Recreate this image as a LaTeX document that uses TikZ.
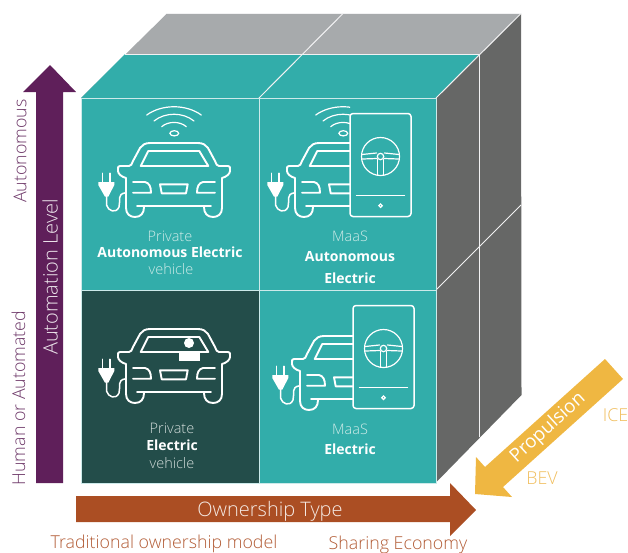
\documentclass[tikz,border=0pt]{standalone}
\usepackage{fontspec}
\setmainfont{Open Sans Light}
\newfontfamily\cellbold{Open Sans}
\definecolor{cubeteal}{HTML}{32ADAA}
\definecolor{cubedark}{HTML}{234D4A}
\definecolor{cubegrey}{HTML}{A7AAAC}
\definecolor{cubeside}{HTML}{666766}
\definecolor{levelpurple}{HTML}{5F1F5A}
\definecolor{levellabel}{HTML}{6F3A6A}
\definecolor{drivegold}{HTML}{EFB742}
\definecolor{drivelabel}{HTML}{F0BE5E}
\definecolor{ownbrown}{HTML}{AB4E23}
\definecolor{ownlabel}{HTML}{B25C36}
\definecolor{softteal}{HTML}{CFEBE8}
\definecolor{softdark}{HTML}{D3DDDB}
\newcommand{\carbody}{%
	\foreach \s in {1,-1}{
		\draw[iconline,xscale=\s] (0,-37) -- (-24,-37) .. controls (-29,-37) and (-32,-35) .. (-34,-32) -- (-41,-19) .. controls (-42,-16) and (-43,-14) .. (-45,-14) -- (-54,-14) .. controls (-56,-14) and (-56,-13) .. (-56,-11) -- (-56,-9) .. controls (-56,-6) and (-52,-3) .. (-48,-2) -- (-48,28) .. controls (-48,34) and (-44,37) .. (-39,37) .. controls (-33,37) and (-30,33) .. (-30,27);
		\draw[iconline,xscale=\s] (-41,2) -- (-29,2) .. controls (-25,3) and (-23,6) .. (-23,12.7) -- (-41,12.7);
	}
	\draw[iconline] (-37,26) -- (37,26);
	\draw[iconline] (-25.7,-29) -- (25.3,-29) -- (34.3,-14) -- (-33.3,-14) -- cycle;
	\draw[iconline] (-14,4.3) -- (13.7,4.3) -- (12,13.3) -- (-12.3,13.3) -- cycle;
	\draw[iconthin] (-71.3,-6.7) -- (-71.3,2);
	\draw[iconthin] (-64,-6.7) -- (-64,2);
	\fill[white] (-75.7,2) -- (-59.7,2) -- (-59.7,5) -- (-65.7,16.7) -- (-69,16.7) -- (-75.7,5) -- cycle;
	\draw[iconthin] (-67.5,16) -- (-67.5,25) .. controls (-66,31) and (-58,34) .. (-55,27) .. controls (-53,21) and (-58,14) .. (-48,12.7);
}
\newcommand{\wifimark}{%
	\draw[iconfine] (0.3,-46.7) ellipse [x radius=4.4,y radius=2.6];
	\draw[iconfine] (-27.3,-65) .. controls (-12,-76) and (12,-76) .. (27.3,-65);
	\draw[iconfine] (-20,-59) .. controls (-9,-68) and (9,-68) .. (20,-59);
	\draw[iconfine] (-12.3,-53.3) .. controls (-6,-59) and (6,-59) .. (12.3,-53.3);
}
\newcommand{\phonemark}{%
	\draw[iconthin,rounded corners=3] (-30.5,-51.5) rectangle (30.5,51.5);
	\draw[iconfine] (0,-8.5) circle [radius=19];
	\draw[iconfine] (0,-8.5) circle [radius=3.2];
	\foreach \s in {1,-1}{
		\draw[iconfine,xscale=\s] (-18.5,-10.5) -- (-4,-12);
		\draw[iconfine,xscale=\s] (-18,-6) -- (-3.5,-6.5);
		\draw[iconfine,xscale=\s] (-3,-5.5) -- (-3,10);
	}
	\draw[iconfine] (-24,30.7) -- (24,30.7);
	\draw[iconfine] (0,40.7) circle [radius=1.7];
}
\tikzset{
	iconline/.style={white,line width=1.9pt,line cap=round,line join=round},
	iconthin/.style={white,line width=1.5pt,line cap=round,line join=round},
	iconfine/.style={white,line width=1.2pt,line cap=round},
	cellface/.style={fill=cubeteal,draw=white!75!cubeteal,line width=1pt},
	seam/.style={white!85!cubegrey,line width=1pt},
	softtext/.style={text=softteal,font=\fontsize{14.5}{16}\selectfont},
	boldtext/.style={text=white,font=\fontsize{14}{16}\selectfont\cellbold\bfseries},
	axistext/.style={font=\fontsize{20}{22}\selectfont},
	sidetext/.style={font=\fontsize{17.8}{20}\selectfont,inner sep=0pt}
}
\begin{document}
\begin{tikzpicture}[x=1pt,y=-1pt]
	\useasboundingbox (0,0) rectangle (628,552);
	% top and side of the cube
	\fill[cubegrey] (81,98) -- (167,13.5) -- (521,13.5) -- (436,98) -- cycle;
	\fill[cubeteal] (81,98) -- (125,54) -- (479,54) -- (436,98) -- cycle;
	\fill[cubeside] (436,98) -- (521,13.5) -- (521.5,395) -- (436,482.5) -- cycle;
	\draw[seam] (125,54) -- (479,54);
	\draw[seam] (167,13.5) -- (521,13.5);
	\draw[seam] (343,13.5) -- (259,98);
	\draw[seam] (436,98) -- (521,13.5);
	\draw[seam] (479,54) -- (479,437);
	\draw[seam] (436,290) -- (521,205);
	% front faces
	\draw[cellface] (81,98) rectangle (259,290);
	\draw[cellface] (259,98) rectangle (436,290);
	\draw[cellface,fill=cubedark] (81,290) rectangle (259,483);
	\draw[cellface] (259,290) rectangle (436,483);
	% icons
	\begin{scope}[shift={(174,180)}]
		\carbody
		\wifimark
	\end{scope}
	\begin{scope}[shift={(343,180)}]
		\clip (-90,-85) rectangle (7,45);
		\carbody
		\wifimark
	\end{scope}
	\begin{scope}[shift={(380.5,165)}]
		\phonemark
	\end{scope}
	\begin{scope}[shift={(174,366)}]
		\carbody
		\fill[white] (15,-23) circle [radius=5];
		\fill[white] (5,-13) rectangle (26,-5);
	\end{scope}
	\begin{scope}[shift={(348,373)}]
		\clip (-90,-85) rectangle (5,45);
		\carbody
	\end{scope}
	\begin{scope}[shift={(383.5,357)}]
		\phonemark
	\end{scope}
	% cell texts
	\node[softtext] (privA) at (170,236) {Private};
	\node[boldtext] (autoA) at (170,252) {Autonomous Electric};
	\node[softtext] (vehA) at (171,269) {vehicle};
	\node[softtext] (maasA) at (350,236) {MaaS};
	\node[boldtext] (autoB) at (350,257) {Autonomous};
	\node[boldtext] (elecB) at (350,278) {Electric};
	\node[softtext,text=softdark] (privC) at (172,428) {Private};
	\node[boldtext] (elecC) at (172,445) {Electric};
	\node[softtext,text=softdark] (vehC) at (172,463) {vehicle};
	\node[softtext] (maasD) at (350,429) {MaaS};
	\node[boldtext] (elecD) at (350,449) {Electric};
	% axis arrows
	\fill[levelpurple] (36,483) -- (36,92) -- (23,92) -- (50,65) -- (76,92) -- (63,92) -- (63,483) -- cycle;
	\fill[ownbrown] (76,496) -- (450,496) -- (450,483) -- (476,510) -- (450,536) -- (450,522) -- (76,522) -- cycle;
	\fill[drivegold] (605,359) -- (623,379) -- (503,487) -- (512,497) -- (475,494) -- (476,457) -- (485,467) -- cycle;
	\node[axistext,text=white!88!levelpurple,rotate=90] (levelname) at (50,277) {Automation Level};
	\node[axistext,text=white!88!ownbrown] (ownname) at (270,511) {Ownership Type};
	\node[axistext,font=\fontsize{18.8}{22}\selectfont\cellbold,text=white,rotate=42.5] (drivename) at (548,428) {Propulsion};
	% axis end labels
	\node[sidetext,text=levellabel,rotate=90] (levelhigh) at (20,151) {Autonomous};
	\node[sidetext,text=levellabel,rotate=90] (levellow) at (18.5,398) {Human or Automated};
	\node[sidetext,text=ownlabel] (ownlow) at (164,544) {Traditional ownership model};
	\node[sidetext,text=ownlabel] (ownhigh) at (398,544.5) {Sharing Economy};
	\node[sidetext,text=drivelabel] (drivelow) at (542,478) {BEV};
	\node[sidetext,text=drivelabel] (drivehigh) at (615.5,415) {ICE};
\end{tikzpicture}
\end{document}
